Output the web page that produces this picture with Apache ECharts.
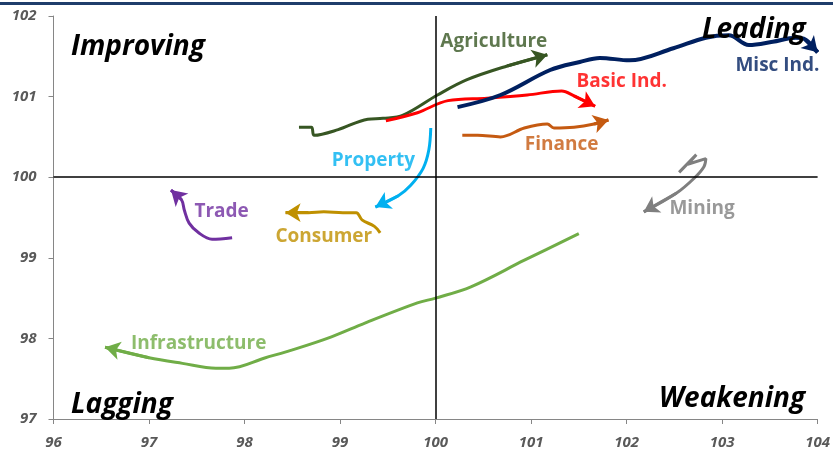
<!DOCTYPE html>
<html>
<head>
<meta charset="utf-8">
<script src="https://cdn.jsdelivr.net/npm/echarts@6/dist/echarts.min.js"></script>
<style>
  html, body { margin: 0; padding: 0; background: #fff; }
  #rrgChart { width: 833px; height: 450px; }
</style>
</head>
<body>
<div id="rrgChart"></div>
<script>
// axis ticks
const xTicks = [96, 97, 98, 99, 100, 101, 102, 103, 104]
const yTicks = [97, 98, 99, 100, 101, 102]

// sector tails, [RS-ratio, RS-momentum], oldest first
const agriculture = [[98.57, 100.62], [98.70, 100.62], [98.73, 100.52], [98.98, 100.59], [99.29, 100.72], [99.45, 100.73], [99.66, 100.77], [100.02, 101.02], [100.33, 101.21], [100.75, 101.38], [101.17, 101.52]]
const basicInd = [[99.48, 100.70], [99.81, 100.80], [100.13, 100.95], [100.54, 100.98], [100.96, 101.02], [101.32, 101.07], [101.45, 101.01], [101.67, 100.88]]
const miscInd = [[100.23, 100.87], [100.68, 101.02], [101.20, 101.33], [101.51, 101.43], [101.72, 101.48], [102.03, 101.45], [102.49, 101.60], [102.83, 101.73], [103.07, 101.76], [103.28, 101.64], [103.53, 101.68], [103.77, 101.73], [103.87, 101.71], [104.00, 101.55]]
const finance = [[100.28, 100.52], [100.44, 100.52], [100.68, 100.50], [100.93, 100.61], [101.17, 100.66], [101.24, 100.61], [101.45, 100.62], [101.66, 100.66], [101.81, 100.71]]
const property = [[99.95, 100.61], [99.93, 100.34], [99.87, 100.11], [99.74, 99.90], [99.61, 99.77], [99.37, 99.63]]
const consumer = [[99.42, 99.31], [99.36, 99.39], [99.23, 99.47], [99.17, 99.56], [99.03, 99.56], [98.83, 99.57], [98.67, 99.56], [98.43, 99.56]]
const trade = [[97.87, 99.25], [97.66, 99.23], [97.52, 99.31], [97.42, 99.43], [97.37, 99.59], [97.34, 99.72], [97.23, 99.84]]
const mining = [[102.55, 100.06], [102.73, 100.28], [102.64, 100.16], [102.83, 100.23], [102.81, 100.13], [102.71, 99.99], [102.52, 99.80], [102.18, 99.57]]
const infrastructure = [[101.50, 99.30], [100.93, 98.97], [100.37, 98.64], [100.00, 98.50], [99.81, 98.44], [99.26, 98.19], [98.91, 98.02], [98.56, 97.88], [98.22, 97.76], [97.84, 97.63], [97.70, 97.63], [97.35, 97.69], [97.00, 97.76], [96.54, 97.89]]

// label anchors (data coords)
const sectorNames = ['Agriculture', 'Basic Ind.', 'Misc Ind.', 'Finance', 'Property', 'Consumer', 'Trade', 'Mining', 'Infrastructure']
const labelSpots = [[100.61, 101.68], [101.95, 101.18], [103.58, 101.39], [101.32, 100.40], [99.35, 100.21], [98.83, 99.26], [97.76, 99.57], [102.79, 99.61], [97.52, 97.93]]

const tails = [agriculture, basicInd, miscInd, finance, property, consumer, trade, mining, infrastructure]
const colors = ['#375623', '#FF0000', '#002060', '#C55A11', '#00B0F0', '#BF9000', '#7030A0', '#7F7F7F', '#70AD47']
const widths = [3, 3, 4, 3, 3, 3, 3, 3, 3]

const echartInit = () => {
  let myChart = echarts.init(document.getElementById('rrgChart'))

  let series = tails.map((pts, i) => {
    let n = pts.length
    return {
      name: sectorNames[i],
      type: 'line',
      data: pts,
      smooth: 0.35,
      showSymbol: false,
      silent: true,
      z: 3,
      lineStyle: { color: colors[i], width: widths[i] },
      markLine: {
        silent: true,
        symbol: ['none', 'arrow'],
        symbolSize: [14, 15],
        label: { show: false },
        lineStyle: { color: colors[i], width: widths[i], type: 'solid' },
        data: [[{ coord: pts[n - 2] }, { coord: pts[n - 1] }]],
      },
    }
  })

  // crosshair at 100 / 100
  series.push({
    type: 'line',
    data: [],
    z: 1,
    markLine: {
      silent: true,
      symbol: 'none',
      label: { show: false },
      lineStyle: { color: '#000', width: 1.5, type: 'solid' },
      data: [{ xAxis: 100 }, { yAxis: 100 }],
    },
  })

  // sector names
  series.push({
    type: 'scatter',
    symbolSize: 0,
    silent: true,
    z: 5,
    data: labelSpots.map((p, i) => ({
      value: p,
      label: {
        show: true,
        position: 'inside',
        formatter: sectorNames[i],
        color: colors[i],
        fontFamily: 'Open Sans',
        fontWeight: 'bold',
        fontSize: 19,
      },
    })),
  })

  const quadrant = (text, left, top) => ({
    type: 'text',
    left: left,
    top: top,
    z: 10,
    style: {
      text: text,
      fill: '#000',
      font: 'italic bold 28px "Open Sans"',
    },
  })

  let option = {
    animation: false,
    grid: { left: 53.5, right: 11, top: 16, bottom: 31 },
    xAxis: {
      type: 'value',
      min: xTicks[0],
      max: xTicks[xTicks.length - 1],
      interval: 1,
      splitLine: { show: false },
      axisLine: { lineStyle: { color: '#868686' } },
      axisTick: { show: true, length: 5, lineStyle: { color: '#868686' } },
      axisLabel: {
        color: '#595959',
        fontFamily: 'Open Sans',
        fontStyle: 'italic',
        fontWeight: 'bold',
        fontSize: 15,
        margin: 16,
      },
    },
    yAxis: {
      type: 'value',
      min: yTicks[0],
      max: yTicks[yTicks.length - 1],
      interval: 1,
      splitLine: { show: false },
      axisLine: { show: true, lineStyle: { color: '#868686' } },
      axisTick: { show: true, length: 5, lineStyle: { color: '#868686' } },
      axisLabel: {
        color: '#595959',
        fontFamily: 'Open Sans',
        fontStyle: 'italic',
        fontWeight: 'bold',
        fontSize: 15,
        margin: 17,
      },
    },
    graphic: [
      {
        type: 'rect',
        left: 0,
        top: 2,
        shape: { width: 833, height: 3 },
        style: { fill: '#1F3D6B' },
      },
      quadrant('Improving', 71, 33),
      quadrant('Leading', 702, 16),
      quadrant('Lagging', 71, 391),
      quadrant('Weakening', 659, 385),
    ],
    series: series,
  }

  myChart.setOption(option)
}

echartInit()
</script>
</body>
</html>
